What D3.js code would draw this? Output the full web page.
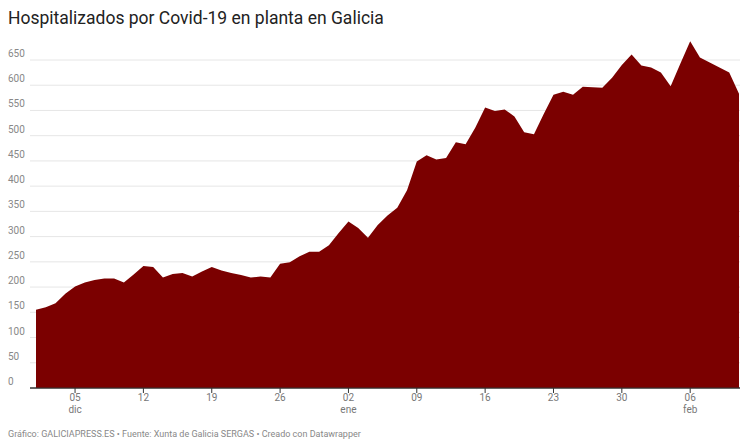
<!DOCTYPE html>
<html><head><meta charset="utf-8">
<script src="https://cdn.jsdelivr.net/npm/d3@7"></script>
<style>body{margin:0;background:#fff;font-family:Roboto,"Liberation Sans",sans-serif}</style>
</head><body><svg id="c" width="756" height="447"></svg>
<script>
// Hospitalizados diarios, 1 dic 2020 -> 11 feb 2021
const startDate = new Date(2020, 11, 1);
const values = [155,160,168,187,201,209,214,217,217,209,225,242,240,219,226,228,221,231,240,233,228,224,219,221,219,246,249,261,270,270,283,
  307,330,317,298,323,342,357,392,449,461,453,456,487,483,516,556,549,552,538,507,503,543,581,587,581,597,596,595,615,640,661,
  639,635,625,598,643,687,655,645,635,625,583];
const yTicks = [0,50,100,150,200,250,300,350,400,450,500,550,600,650];
const xTickDates = [new Date(2020,11,5),new Date(2020,11,12),new Date(2020,11,19),new Date(2020,11,26),new Date(2021,0,2),new Date(2021,0,9),new Date(2021,0,16),new Date(2021,0,23),new Date(2021,0,30),new Date(2021,1,6)];
const monthLabels = {"2020-11-5":"dic","2021-0-2":"ene","2021-1-6":"feb"};

const data = values.map((v,i) => ({date: d3.timeDay.offset(startDate, i), v}));
const svg = d3.select('#c');
const x = d3.scaleTime().domain(d3.extent(data, d => d.date)).range([36, 739]);
const y = d3.scaleLinear().domain([0, 650]).range([388, 60]);

svg.append('text').attr('x', 8).attr('y', 24).attr('font-size', 17.5).attr('fill', '#222')
  .text('Hospitalizados por Covid-19 en planta en Galicia');

// grid + y labels
yTicks.forEach(t => {
  svg.append('line').attr('x1', 30).attr('x2', 740).attr('y1', y(t)).attr('y2', y(t))
    .attr('stroke', t === 0 ? '#333' : '#e6e6e6').attr('stroke-width', 1);
  svg.append('text').attr('x', 8).attr('y', y(t) - 3).attr('font-size', 10).attr('fill', '#888').text(t);
});

const area = d3.area().x(d => x(d.date)).y0(y(0)).y1(d => y(d.v));
svg.append('path').datum(data).attr('d', area).attr('fill', '#7b0000');
svg.append('line').attr('x1', 30).attr('x2', 740).attr('y1', y(0)).attr('y2', y(0)).attr('stroke', '#333');

xTickDates.forEach(d => {
  const px = x(d);
  svg.append('line').attr('x1', px).attr('x2', px).attr('y1', 388).attr('y2', 393).attr('stroke', '#333');
  svg.append('text').attr('x', px).attr('y', 401).attr('text-anchor', 'middle').attr('font-size', 10).attr('fill', '#777')
    .text(d3.timeFormat('%d')(d));
  const key = d.getFullYear() + '-' + d.getMonth() + '-' + d.getDate();
  if (monthLabels[key]) svg.append('text').attr('x', px).attr('y', 413).attr('text-anchor', 'middle')
    .attr('font-size', 10).attr('fill', '#777').text(monthLabels[key]);
});

svg.append('text').attr('x', 8).attr('y', 437).attr('font-size', 9).attr('fill', '#888')
  .text('Gráfico: GALICIAPRESS.ES • Fuente: Xunta de Galicia SERGAS • Creado con Datawrapper');
</script></body></html>
